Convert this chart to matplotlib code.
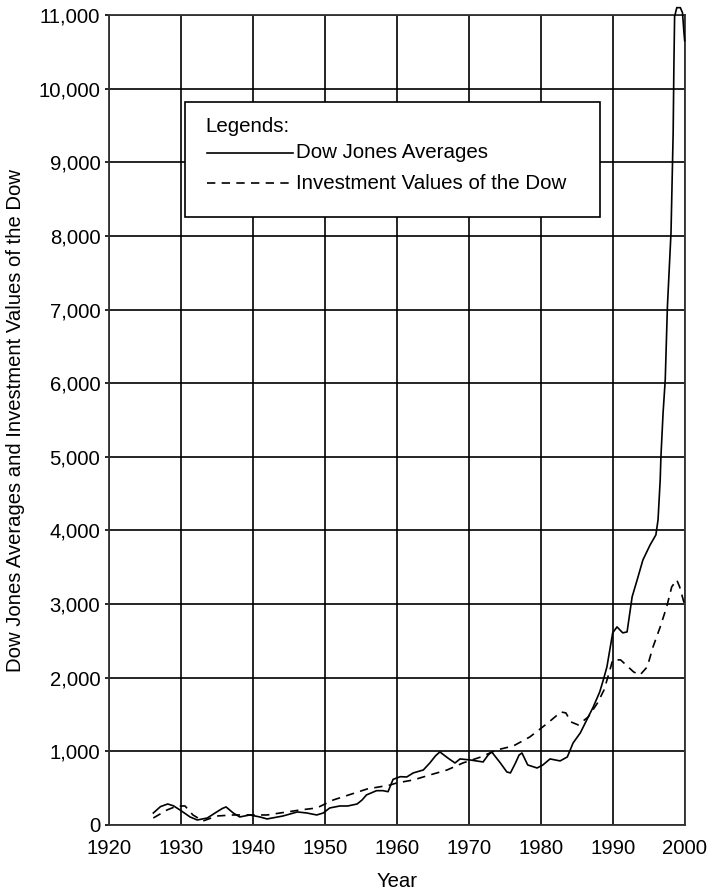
import numpy as np
import matplotlib
matplotlib.use('Agg')
import matplotlib.pyplot as plt
from matplotlib.patches import Rectangle
from matplotlib.lines import Line2D
from matplotlib.ticker import FuncFormatter

plt.rcParams['font.family'] = ['Liberation Sans', 'DejaVu Sans']

# Dow Jones Averages
dow_years = [1926.2, 1927.2, 1928.2, 1929.0, 1929.9, 1931.3, 1932.3, 1933.7, 1935.0,
             1935.8, 1936.3, 1937.3, 1938.2, 1939.6, 1941.0, 1942.0, 1944.2, 1946.2,
             1947.5, 1948.9, 1949.8, 1950.7, 1952.1, 1953.2, 1954.5, 1955.2, 1955.8,
             1957.2, 1958.1, 1958.8, 1959.5, 1960.5, 1961.4, 1962.3, 1963.7, 1964.6,
             1965.4, 1966.0, 1967.1, 1968.1, 1968.8, 1970.2, 1972.0, 1972.7, 1973.2,
             1974.4, 1975.3, 1975.8, 1976.5, 1977.0, 1977.4, 1978.2, 1979.5, 1980.3,
             1981.3, 1982.7, 1983.7, 1984.5, 1985.5, 1986.4, 1987.3, 1988.2, 1988.7,
             1989.2, 1989.6, 1990.0, 1990.6, 1991.4, 1992.0, 1992.7, 1993.4, 1994.2,
             1995.2, 1996.0, 1996.3, 1996.6, 1996.7, 1997.0, 1997.3, 1997.6, 1998.1,
             1998.4, 1998.5, 1998.6, 1998.9, 1999.4, 1999.7, 1999.9, 2000.0]
dow_values = [163, 250, 285, 260, 204, 109, 68, 95, 177,
              225, 245, 163, 109, 136, 109, 82, 122, 177,
              163, 136, 163, 231, 258, 258, 285, 340, 408,
              466, 466, 452, 620, 656, 652, 707, 747, 842,
              940, 992, 910, 842, 897, 883, 856, 950, 992,
              842, 720, 707, 842, 950, 978, 815, 774, 815,
              897, 870, 924, 1114, 1250, 1427, 1603, 1807, 1970,
              2147, 2378, 2609, 2690, 2609, 2622, 3098, 3329, 3600,
              3804, 3940, 4144, 4688, 5000, 5598, 6046, 7038, 8043,
              9402, 10299, 10978, 11100, 11100, 11030, 10760, 10650]

# Investment Values of the Dow
inv_years = [1926.2, 1928.1, 1929.5, 1930.6, 1931.7, 1933.1, 1935.0, 1937.3, 1942.0,
             1946.6, 1948.9, 1951.2, 1955.9, 1959.1, 1960.0, 1962.3, 1964.6, 1967.0,
             1969.2, 1971.7, 1973.9, 1976.2, 1978.5, 1981.0, 1982.8, 1983.5, 1984.2,
             1985.2, 1986.6, 1987.9, 1988.8, 1989.5, 1990.0, 1991.1, 1992.9, 1993.8,
             1994.8, 1995.6, 1996.6, 1997.5, 1998.2, 1998.9, 1999.3, 1999.8, 2000.0]
inv_values = [95, 204, 258, 258, 136, 54, 122, 136, 136,
              204, 231, 340, 489, 543, 571, 611, 679, 747,
              842, 924, 1019, 1073, 1196, 1386, 1535, 1522, 1400,
              1359, 1467, 1658, 1834, 2065, 2242, 2242, 2079, 2038,
              2147, 2418, 2690, 2962, 3234, 3329, 3234, 3057, 2980]

x_ticks = [1920, 1930, 1940, 1950, 1960, 1970, 1980, 1990, 2000]
y_ticks = list(range(0, 11001, 1000))

legend_title = 'Legends:'
legend_labels = ['Dow Jones Averages', 'Investment Values of the Dow']

fig = plt.figure(figsize=(7.09, 8.94), dpi=100)
ax = fig.add_axes([0.1533, 0.0772, 0.8124, 0.906])

ax.plot(dow_years, dow_values, color='black', lw=1.2, clip_on=False, zorder=3)
ax.plot(inv_years, inv_values, color='black', lw=1.2, dashes=(5, 3.8), zorder=3)

ax.set_xlim(1920, 2000)
ax.set_ylim(0, 11000)
ax.set_xticks(x_ticks)
ax.set_yticks(y_ticks)
ax.yaxis.set_major_formatter(FuncFormatter(lambda v, p: f'{int(v):,}'))
ax.grid(True, color='black', lw=1.2)
ax.set_axisbelow(True)
for s in ax.spines.values():
    s.set_linewidth(1.3)
    s.set_color('#333333')
ax.tick_params(axis='y', direction='out', length=3, width=1.2, labelsize=14.6, pad=3)
ax.tick_params(axis='x', length=0, labelsize=14.6, pad=10)

ax.set_xlabel('Year', fontsize=14.6, labelpad=10)
ax.set_ylabel('Dow Jones Averages and Investment Values of the Dow', fontsize=14.6, labelpad=10)

# legend box drawn by hand
box = Rectangle((0.1325, 0.7506), 0.7205, 0.142, transform=ax.transAxes,
                facecolor='white', edgecolor='black', lw=1.2, zorder=5)
ax.add_patch(box)
ax.text(0.167, 0.8624, legend_title, transform=ax.transAxes, fontsize=14.8,
        va='center', ha='left', zorder=6)
ax.add_line(Line2D([0.1705, 0.3205], [0.8302, 0.8302], transform=ax.transAxes,
                   color='black', lw=1.2, zorder=6))
ax.add_line(Line2D([0.1705, 0.3205], [0.7920, 0.7920], transform=ax.transAxes,
                   color='black', lw=1.2, dashes=(5, 3.8), zorder=6))
ax.text(0.326, 0.8302, legend_labels[0], transform=ax.transAxes, fontsize=14.8,
        va='center', ha='left', zorder=6)
ax.text(0.326, 0.7920, legend_labels[1], transform=ax.transAxes, fontsize=14.8,
        va='center', ha='left', zorder=6)

fig.savefig('out.png', dpi=100)
